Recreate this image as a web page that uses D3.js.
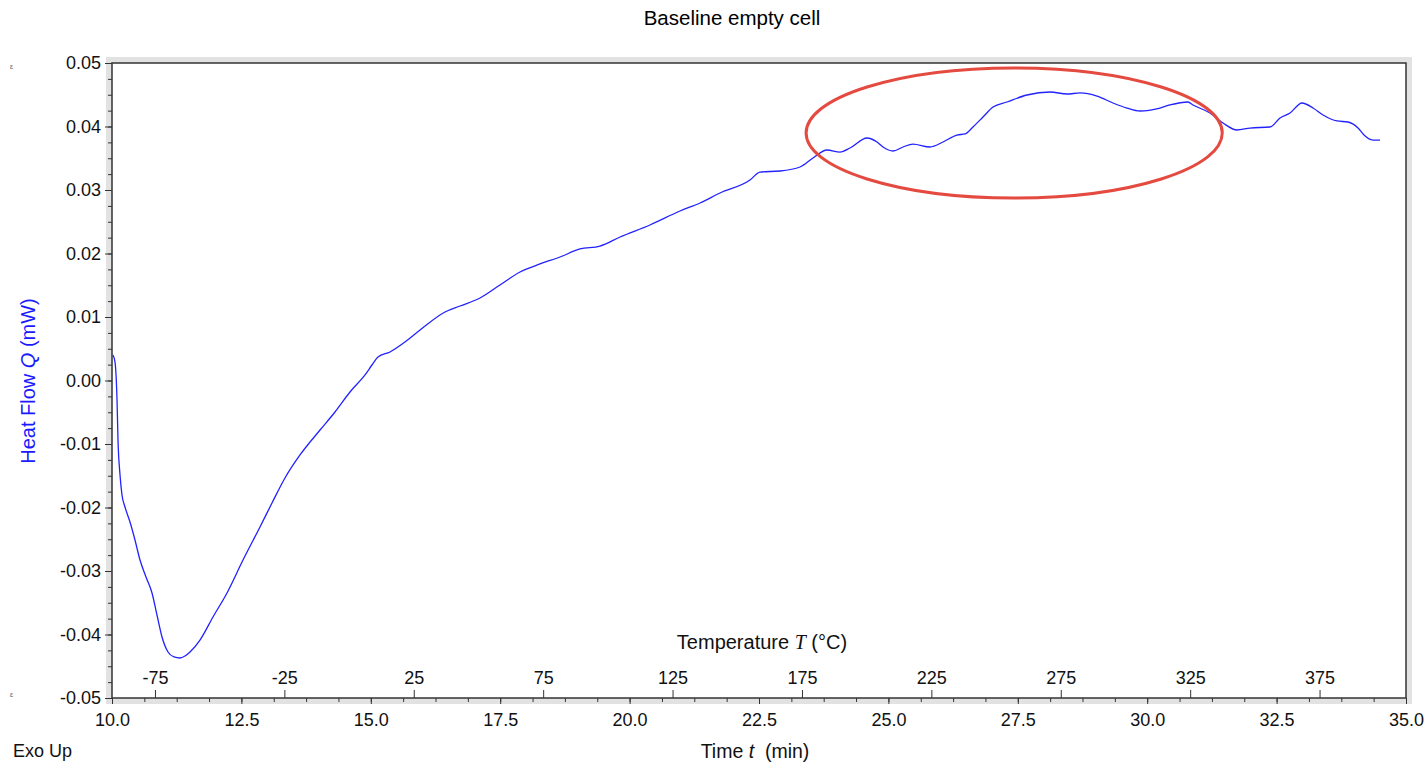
<!DOCTYPE html>
<html>
<head>
<meta charset="utf-8">
<script src="https://cdn.jsdelivr.net/npm/d3@7"></script>
<style>
  html, body { margin: 0; padding: 0; background: #fff; }
  svg { display: block; font-family: "Liberation Sans", Arial, sans-serif; }
</style>
</head>
<body>
<svg id="chart" width="1428" height="763"></svg>
<script>
// ---- data ----
const chartTitle = "Baseline empty cell";
const timeMin = [
  10.019, 10.058, 10.097, 10.116, 10.155, 10.193, 10.251, 10.348, 10.444, 10.541,
  10.657, 10.773, 10.869, 10.966, 11.082, 11.198, 11.314, 11.410, 11.507, 11.700,
  11.951, 12.222, 12.531, 12.859, 13.091, 13.342, 13.632, 14.019, 14.308, 14.598,
  14.888, 15.023, 15.139, 15.371, 15.661, 15.951, 16.434, 16.723, 17.110, 17.496,
  17.883, 18.269, 18.655, 19.042, 19.428, 19.815, 20.394, 20.974, 21.360, 21.747,
  22.326, 22.519, 22.906, 23.292, 23.543, 23.814, 24.065, 24.258, 24.587, 24.780,
  24.896, 25.089, 25.282, 25.475, 25.804, 26.055, 26.325, 26.480, 26.634, 26.828,
  27.021, 27.291, 27.678, 28.122, 28.451, 28.702, 29.030, 29.339, 29.610, 29.861,
  30.247, 30.440, 30.788, 30.885, 31.213, 31.464, 31.735, 31.986, 32.373, 32.566,
  32.759, 32.991, 33.204, 33.397, 33.668, 33.880, 34.073, 34.189, 34.362, 34.498
];
const heatFlow = [
  0.00402, 0.00291, -0.00307, -0.00937, -0.01488, -0.01803, -0.01992, -0.02228, -0.02512, -0.02827,
  -0.03094, -0.03346, -0.03693, -0.04039, -0.04276, -0.04354, -0.04370, -0.04339, -0.04276, -0.04087,
  -0.03724, -0.03346, -0.02827, -0.02307, -0.01929, -0.01535, -0.01173, -0.00780, -0.00496, -0.00181,
  0.00087, 0.00244, 0.00370, 0.00449, 0.00606, 0.00795, 0.01079, 0.01173, 0.01299, 0.01504,
  0.01709, 0.01835, 0.01945, 0.02071, 0.02118, 0.02260, 0.02449, 0.02669, 0.02795, 0.02953,
  0.03157, 0.03283, 0.03299, 0.03362, 0.03504, 0.03630, 0.03598, 0.03661, 0.03819, 0.03756,
  0.03677, 0.03614, 0.03677, 0.03724, 0.03677, 0.03756, 0.03866, 0.03882, 0.03992, 0.04150,
  0.04307, 0.04386, 0.04496, 0.04543, 0.04512, 0.04528, 0.04480, 0.04370, 0.04291, 0.04244,
  0.04291, 0.04339, 0.04386, 0.04339, 0.04213, 0.04055, 0.03945, 0.03976, 0.03992, 0.04134,
  0.04213, 0.04370, 0.04291, 0.04181, 0.04087, 0.04071, 0.03976, 0.03866, 0.03787, 0.03787
];
const timeDomain = [10.0, 35.0];
const heatDomain = [-0.05, 0.05];
const tempDomain = [-91.6, 408.4];   // temperature at t = 10 and t = 35 min
const timeTicks = [10.0, 12.5, 15.0, 17.5, 20.0, 22.5, 25.0, 27.5, 30.0, 32.5, 35.0];
const heatTicks = [-0.05, -0.04, -0.03, -0.02, -0.01, 0.00, 0.01, 0.02, 0.03, 0.04, 0.05];
const tempTicks = [-75, -25, 25, 75, 125, 175, 225, 275, 325, 375];
// highlighted region (ellipse): center time, center heat flow, half-width (min), half-height (mW)
const highlightCenter = [27.43, 0.03898];
const highlightRadii = [4.02, 0.01024];

// ---- layout ----
const svg = d3.select("#chart");
const L = 112, R = 1406, T = 63, B = 698;

const x = d3.scaleLinear().domain(timeDomain).range([L, R]);
const y = d3.scaleLinear().domain(heatDomain).range([B, T]);
const xT = d3.scaleLinear().domain(tempDomain).range([L, R]);

// gray border band
svg.append("rect").attr("x", 106).attr("y", 57).attr("width", 1412 - 106).attr("height", 704 - 57)
  .attr("fill", "#e2e2e2");
svg.append("rect").attr("x", L).attr("y", T).attr("width", R - L).attr("height", B - T)
  .attr("fill", "#fff");

// title
svg.append("text").attr("x", 732).attr("y", 25).attr("text-anchor", "middle")
  .attr("font-size", 20.5).attr("fill", "#000").text(chartTitle);

// y axis minor ticks
const yMinor = d3.range(0, 41).map(i => -0.05 + i * 0.0025);
svg.append("g").attr("transform", `translate(${L},0)`)
  .call(d3.axisLeft(y).tickValues(yMinor).tickSize(4).tickFormat(""))
  .call(g => g.select(".domain").remove())
  .call(g => g.selectAll("line").attr("stroke", "#333"));
// y axis major
svg.append("g").attr("transform", `translate(${L},0)`)
  .call(d3.axisLeft(y).tickValues(heatTicks).tickSize(7).tickPadding(4)
    .tickFormat(d => (Math.abs(d) < 1e-9 ? 0 : d).toFixed(2)))
  .call(g => g.select(".domain").remove())
  .call(g => g.selectAll("line").attr("stroke", "#333"))
  .call(g => g.selectAll("text").attr("font-size", 18).attr("fill", "#111")
    .attr("font-family", "Liberation Sans, Arial, sans-serif"));

// x axis minor ticks
const xMinor = d3.range(0, 41).map(i => 10 + i * 0.625);
svg.append("g").attr("transform", `translate(0,${B})`)
  .call(d3.axisBottom(x).tickValues(xMinor).tickSize(4).tickFormat(""))
  .call(g => g.select(".domain").remove())
  .call(g => g.selectAll("line").attr("stroke", "#333"));
// x axis major
svg.append("g").attr("transform", `translate(0,${B})`)
  .call(d3.axisBottom(x).tickValues(timeTicks).tickSize(6).tickPadding(9)
    .tickFormat(d => d.toFixed(1)))
  .call(g => g.select(".domain").remove())
  .call(g => g.selectAll("line").attr("stroke", "#333"))
  .call(g => g.selectAll("text").attr("font-size", 18).attr("fill", "#111")
    .attr("font-family", "Liberation Sans, Arial, sans-serif"));

// temperature axis (ticks pointing up inside the plot)
svg.append("g").attr("transform", `translate(0,${B})`)
  .call(d3.axisTop(xT).tickValues(tempTicks).tickSize(8).tickPadding(6)
    .tickFormat(d => String(d)))
  .call(g => g.select(".domain").remove())
  .call(g => g.selectAll("line").attr("stroke", "#333"))
  .call(g => g.selectAll("text").attr("font-size", 18).attr("fill", "#111")
    .attr("font-family", "Liberation Sans, Arial, sans-serif"));

// frame
svg.append("rect").attr("x", L).attr("y", T).attr("width", R - L).attr("height", B - T)
  .attr("fill", "none").attr("stroke", "#333").attr("stroke-width", 1.5);

// data line
const pts = timeMin.map((t, i) => [t, heatFlow[i]]);
svg.append("path").datum(pts)
  .attr("fill", "none").attr("stroke", "#2222ff").attr("stroke-width", 1.3)
  .attr("stroke-linejoin", "round")
  .attr("d", d3.line().curve(d3.curveMonotoneX).x(d => x(d[0])).y(d => y(d[1])));

// highlight ellipse
svg.append("ellipse")
  .attr("cx", x(highlightCenter[0])).attr("cy", y(highlightCenter[1]))
  .attr("rx", x(timeDomain[0] + highlightRadii[0]) - x(timeDomain[0]))
  .attr("ry", y(0) - y(highlightRadii[1]))
  .attr("fill", "none").attr("stroke", "#e44a40").attr("stroke-width", 3);

// axis labels
const tLab = svg.append("text").attr("x", 755).attr("y", 758).attr("text-anchor", "middle")
  .attr("font-size", 19.5).attr("fill", "#111");
tLab.append("tspan").text("Time ");
tLab.append("tspan").attr("font-style", "italic").text("t");
tLab.append("tspan").attr("xml:space", "preserve").text("  (min)");

const TLab = svg.append("text").attr("x", 762).attr("y", 649).attr("text-anchor", "middle")
  .attr("font-size", 20).attr("fill", "#111");
TLab.append("tspan").text("Temperature ");
TLab.append("tspan").attr("font-style", "italic").attr("font-family", "Liberation Serif, Times New Roman, serif").text("T");
TLab.append("tspan").text("  (°C)");

const yLab = svg.append("text").attr("transform", "translate(35,381) rotate(-90)")
  .attr("text-anchor", "middle").attr("font-size", 20).attr("fill", "#1a1aff");
yLab.append("tspan").text("Heat Flow ");
yLab.append("tspan").attr("font-style", "italic").text("Q");
yLab.append("tspan").text("  (mW)");

svg.append("text").attr("x", 13).attr("y", 757).attr("font-size", 18).attr("fill", "#111").text("Exo Up");

// small marks at left edge
svg.append("text").attr("x", 10).attr("y", 69).attr("font-size", 7).attr("fill", "#555").text("ε");
svg.append("text").attr("x", 10).attr("y", 697).attr("font-size", 7).attr("fill", "#555").text("ε");
</script>
</body>
</html>
